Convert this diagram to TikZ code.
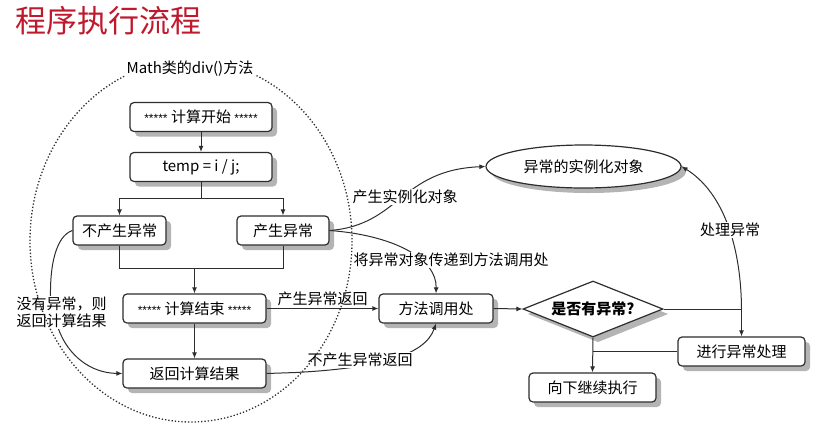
\documentclass[tikz,border=0pt]{standalone}
\usepackage{fontspec}
\setmainfont{Noto Sans CJK SC}
\newfontfamily\lat{Liberation Sans}
\usetikzlibrary{shapes.geometric,arrows.meta}
\definecolor{ln}{RGB}{45,45,45}
\definecolor{titlered}{RGB}{190,25,45}
\definecolor{shadowgray}{RGB}{180,180,180}
\newcommand{\stars}{{\lat\fontsize{12}{12}\selectfont *****}}
\newcommand{\shadowat}[4]{\fill[shadowgray,rounded corners=4pt] ({#1-(#3)/2+5},{#2-(#4)/2+5}) rectangle ({#1+(#3)/2+5},{#2+(#4)/2+5});}
\begin{document}
\begin{tikzpicture}[x=1pt,y=-1pt,
  box/.style={draw=ln,line width=1.2pt,rounded corners=4pt,fill=white,minimum height=29pt,inner sep=0pt,font=\fontsize{15}{17}\selectfont},
  lbl/.style={font=\fontsize{15}{17}\selectfont,inner sep=1pt},
  wlbl/.style={lbl,fill=white},
  con/.style={draw=ln,line width=1pt},
  arr/.style={con,-{Latex[length=6pt,width=5pt]}}
]
\useasboundingbox (0,0) rectangle (819,424);

% shadows
\shadowat{201}{117}{142}{29}
\shadowat{201}{167}{142}{29}
\shadowat{119.5}{230.5}{93}{29}
\shadowat{283}{230.5}{92}{29}
\shadowat{194.5}{308.5}{143}{29}
\shadowat{194.5}{373.5}{143}{29}
\shadowat{436}{308.5}{114}{29}
\shadowat{741.5}{351.5}{127}{29}
\shadowat{592.5}{387.5}{127}{29}
\fill[shadowgray] (598,286) -- (668,314) -- (598,342) -- (528,314) -- cycle;
\fill[shadowgray] (588.5,171.5) ellipse [x radius=97.5,y radius=21.5];

\node[font=\fontsize{31}{33}\selectfont,text=titlered,inner sep=0pt] (title) at (108,21) {程序执行流程};

% boxes
\node[box,minimum width=142pt] (start) at (201,117) {\stars\ 计算开始 \stars};
\node[box,minimum width=142pt] (temp) at (201,167) {temp = i / j;};
\node[box,minimum width=93pt] (noexc) at (119.5,230.5) {不产生异常};
\node[box,minimum width=92pt] (exc) at (283,230.5) {产生异常};
\node[box,minimum width=143pt] (end) at (194.5,308.5) {\stars\ 计算结束 \stars};
\node[box,minimum width=143pt] (ret) at (194.5,373.5) {返回计算结果};
\node[box,minimum width=114pt] (call) at (436,308.5) {方法调用处};
\node[draw=ln,line width=1.2pt,diamond,aspect=2.5,fill=white,minimum width=140pt,minimum height=56pt,inner sep=0pt,font=\fontsize{15}{17}\selectfont\bfseries] (dia) at (593,309) {是否有异常?};
\node[box,minimum width=127pt] (handle) at (741.5,351.5) {进行异常处理};
\node[box,minimum width=127pt] (cont) at (592.5,387.5) {向下继续执行};
\node[draw=ln,line width=1.2pt,ellipse,fill=white,minimum width=195pt,minimum height=43pt,inner sep=0pt,font=\fontsize{15}{17}\selectfont] (obj) at (583.5,166.5) {异常的实例化对象};

% left flow
\draw[arr] (start.south) -- (temp.north);
\draw[arr] (temp.south) -- ++(0,16) -| (noexc.north);
\draw[arr] (temp.south) -- ++(0,16) -| (exc.north);
\coordinate (m) at (194.5,268);
\draw[con] (noexc.south) |- (m);
\draw[con] (exc.south) |- (m);
\draw[arr] (m) -- (end.north);
\draw[arr] (end.south) -- (ret.north);

% left label
\node[lbl,align=left] (nolbl) at (61.5,312.5) {没有异常，则\\返回计算结果};
\draw[con] (noexc.west) .. controls (56,236) and (50,265) .. ([xshift=-11pt]nolbl.north);
\draw[arr] ([xshift=-3pt]nolbl.south) .. controls (68,355) and (90,373) .. (ret.west);

% returns
\draw[arr] (end.east) -- node[lbl,above=1pt] (l1) {产生异常返回} (call.west);
\draw[arr] (ret.east) -- ++(29,-1) .. controls (380,368) and (425,355) .. (call.south);
\node[wlbl] (l2) at (360,360) {不产生异常返回};

% from exc
\draw[arr] (exc.east) .. controls (400,225) and (400,170) .. (obj.west);
\node[wlbl] (l3) at (405,197) {产生实例化对象};
\draw[arr] (exc.east) .. controls (392,235) and (437,258) .. (call.north);
\node[wlbl] (l4) at (451,260) {将异常对象传递到方法调用处};

% right flow
\draw[arr] (call.east) -- (dia.west);
\draw[arr] (dia.east) -| (handle.north);
\coordinate (j) at (handle.north |- dia.east);
\draw[arr] (j) .. controls (741,240) and (720,190) .. (obj.east);
\node[wlbl] (l5) at (730,230) {处理异常};
\draw[arr] (dia.south) -- (cont.north);
\draw[con] (handle.west) -- (cont.north |- handle.west);

% dotted ellipse
\draw[ln,dotted,line width=1.3pt] (191,241) ellipse [x radius=161,y radius=181];
\node[lbl,fill=white,inner sep=2pt] (math) at (190,69) {Math类的div()方法};
\end{tikzpicture}
\end{document}
